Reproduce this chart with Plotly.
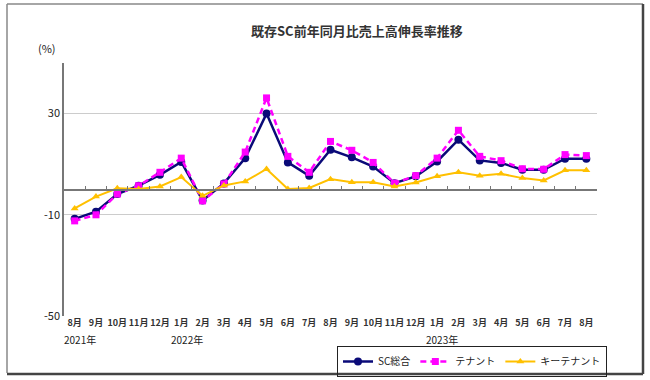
import plotly.graph_objects as go

months = ["8月", "9月", "10月", "11月", "12月", "1月", "2月", "3月", "4月", "5月", "6月", "7月", "8月",
          "9月", "10月", "11月", "12月", "1月", "2月", "3月", "4月", "5月", "6月", "7月", "8月"]
year_labels = ["2021年", "2022年", "2023年"]
year_positions = [0, 5, 17]

sc_total = [-11.6, -8.8, -1.8, 1.5, 5.8, 10.9, -4.3, 2.4, 12.4, 30.0, 10.7, 5.4, 15.7,
            12.7, 9.1, 2.5, 5.2, 11.1, 19.7, 11.5, 10.5, 7.8, 7.8, 12.2, 12.2]
tenant = [-12.4, -10.0, -1.8, 1.5, 6.8, 12.4, -4.5, 2.2, 14.8, 36.2, 13.1, 6.8, 19.0,
          15.5, 10.7, 2.5, 5.5, 12.4, 23.4, 13.1, 11.4, 8.2, 8.0, 13.8, 13.4]
key_tenant = [-7.5, -2.8, 0.5, 0.2, 1.2, 4.9, -2.5, 1.6, 3.2, 8.1, 0.2, 0.6, 4.1,
              2.9, 2.9, 1.2, 2.8, 5.2, 6.8, 5.4, 6.2, 4.5, 3.6, 7.6, 7.6]

x = list(range(len(months)))

W, H = 650, 380
L, R, T, B = 64, 597, 63, 316


def px(v):
    return (v - L) / (R - L)


def py(v):
    return (B - v) / (B - T)


FONT = "Noto Sans CJK JP"

fig = go.Figure()
fig.add_trace(go.Scatter(x=x, y=sc_total, name="SC総合", mode="lines+markers",
                         line=dict(color="#0a0a78", width=2.5),
                         marker=dict(symbol="circle", size=8, color="#0a0a78")))
fig.add_trace(go.Scatter(x=x, y=tenant, name="テナント", mode="lines+markers",
                         line=dict(color="#ff00ff", width=2.5, dash="6px,4px"),
                         marker=dict(symbol="square", size=7, color="#ff00ff")))
fig.add_trace(go.Scatter(x=x, y=key_tenant, name="キーテナント", mode="lines+markers",
                         line=dict(color="#ffc000", width=2),
                         marker=dict(symbol="triangle-up", size=7, color="#ffc000")))
# invisible trace to carry the zero axis
fig.add_trace(go.Scatter(x=x, y=[None] * len(x), xaxis="x2", showlegend=False, hoverinfo="skip"))

shapes = [
    dict(type="line", xref="paper", yref="paper", x0=px(7), x1=px(643), y0=py(4), y1=py(4),
         line=dict(color="#888888", width=1.5)),
    dict(type="line", xref="paper", yref="paper", x0=px(7), x1=px(7), y0=py(4), y1=py(373),
         line=dict(color="#888888", width=1.5)),
    dict(type="line", xref="paper", yref="paper", x0=px(643), x1=px(643), y0=py(4), y1=py(374),
         line=dict(color="#444444", width=2.5)),
    dict(type="line", xref="paper", yref="paper", x0=px(7), x1=px(643), y0=py(374), y1=py(374),
         line=dict(color="#444444", width=2.5)),
]

annotations = [
    dict(text="<b>既存SC前年同月比売上高伸長率推移</b>", xref="paper", yref="paper", x=px(357), y=py(30),
         showarrow=False, font=dict(size=13, color="#333333", family=FONT), xanchor="center", yanchor="middle"),
    dict(text="(%)", xref="paper", yref="paper", x=px(47), y=py(48),
         showarrow=False, font=dict(size=11, color="#222222", family=FONT), xanchor="center", yanchor="middle"),
]
for lab, pos in zip(year_labels, year_positions):
    annotations.append(dict(text=lab, xref="x", yref="paper", x=pos + 0.25, y=py(339),
                            showarrow=False, font=dict(size=10, color="#222222", family=FONT),
                            xanchor="center", yanchor="middle"))

fig.update_layout(
    width=W, height=H,
    margin=dict(l=L, r=W - R, t=T, b=H - B, autoexpand=False),
    paper_bgcolor="white", plot_bgcolor="white",
    font=dict(family=FONT, color="#222222"),
    showlegend=True,
    legend=dict(orientation="h", x=px(337), y=py(346), xanchor="left", yanchor="top",
                bordercolor="#222222", borderwidth=1, font=dict(size=10, family=FONT),
                itemwidth=30, tracegroupgap=0, bgcolor="rgba(255,255,255,0)"),
    xaxis=dict(tickmode="array", tickvals=x, ticktext=["<b>%s</b>" % m for m in months],
               range=[-0.5, len(x) - 0.5], tickangle=0, automargin=False,
               showgrid=False, zeroline=False, showline=False, ticks="",
               tickfont=dict(size=9, color="#333333", family=FONT)),
    xaxis2=dict(overlaying="x", anchor="free", position=0.5, side="bottom", range=[-0.5, len(x) - 0.5],
                tickmode="array", tickvals=[i + 0.5 for i in x[:-1]], ticks="inside", ticklen=3,
                tickcolor="#777777", showticklabels=False, showgrid=False, zeroline=False,
                showline=True, linecolor="#777777", linewidth=1.5, automargin=False),
    yaxis=dict(range=[-50, 50], tickmode="array", tickvals=[-50, -10, 30], ticktext=["-50", "-10", "30"],
               showgrid=True, gridcolor="#cccccc", gridwidth=1, zeroline=False, automargin=False,
               showline=True, linecolor="#777777", linewidth=1.5, ticks="",
               tickfont=dict(size=11, color="#222222", family=FONT)),
    shapes=shapes, annotations=annotations,
)

fig.write_html("out.html", config={"displayModeBar": False},
               post_script="document.body.style.margin='0';document.body.style.padding='0';")
